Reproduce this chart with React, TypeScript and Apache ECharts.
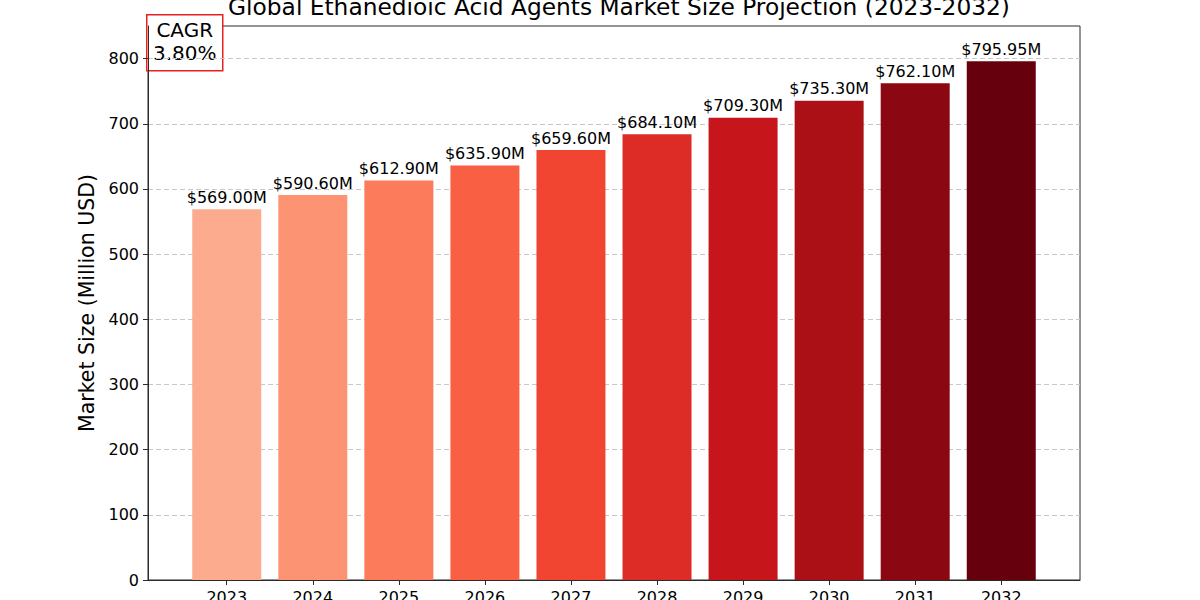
import React, { useEffect, useRef } from "react";
import * as echarts from "echarts";

const years = ["2023", "2024", "2025", "2026", "2027", "2028", "2029", "2030", "2031", "2032"];
const values = [569.0, 590.6, 612.9, 635.9, 659.6, 684.1, 709.3, 735.3, 762.1, 795.95];
const colors = [
  "#fcab8f", "#fc9474", "#fb7b5b", "#f85f43", "#f14431",
  "#dd2c25", "#c6161c", "#aa1016", "#8b0812", "#67000d",
];
const yTicks = [0, 100, 200, 300, 400, 500, 600, 700, 800];
const titleText = "Global Ethanedioic Acid Agents Market Size Projection (2023-2032)";
const yAxisName = "Market Size (Million USD)";
const cagrText = "CAGR\n3.80%";

const FONT = "DejaVu Sans";
const AXIS_COLOR = "#2a2a2a";

export default function App() {
  const ref = useRef<HTMLDivElement>(null);
  useEffect(() => {
    if (!ref.current) return;
    const chart = echarts.init(ref.current, undefined, { renderer: "svg" });
    chart.setOption({
      animation: false,
      backgroundColor: "#ffffff",
      textStyle: { fontFamily: FONT },
      title: {
        text: titleText,
        left: 614,
        textAlign: "center",
        top: -10,
        textStyle: { fontFamily: FONT, fontSize: 23.3, fontWeight: "normal", color: "#000" },
      },
      grid: {
        left: 148,
        right: 120,
        top: 26,
        bottom: 20,
        outerBoundsMode: "none",
        containLabel: false,
        show: true,
        borderColor: AXIS_COLOR,
        borderWidth: 1,
        backgroundColor: "transparent",
      },
      xAxis: {
        type: "value",
        min: -0.915,
        max: 9.915,
        axisLine: { show: true, onZero: false, lineStyle: { color: AXIS_COLOR, width: 1 } },
        axisTick: { show: true, length: 5, customValues: years.map((_, i) => i), lineStyle: { color: AXIS_COLOR } },
        axisLabel: {
          customValues: years.map((_, i) => i),
          formatter: (v: number) => years[Math.round(v)] ?? "",
          fontSize: 16,
          color: "#000",
          fontFamily: FONT,
          margin: 9,
        },
        splitLine: { show: false },
      },
      yAxis: {
        type: "value",
        min: 0,
        max: 850,
        interval: 100,
        name: yAxisName,
        nameLocation: "middle",
        nameGap: 50,
        nameTextStyle: { fontSize: 20.5, color: "#000", fontFamily: FONT },
        axisLine: { show: true, onZero: false, lineStyle: { color: AXIS_COLOR, width: 1 } },
        axisTick: { show: true, length: 5, customValues: yTicks, lineStyle: { color: AXIS_COLOR } },
        axisLabel: {
          customValues: yTicks,
          fontSize: 16,
          color: "#000",
          fontFamily: FONT,
          margin: 9,
        },
        splitLine: { show: true, lineStyle: { color: "#c8c8c8", type: [5, 3], width: 1 } },
      },
      series: [
        {
          type: "bar",
          barWidth: 69,
          data: values.map((v, i) => ({ value: [i, v], itemStyle: { color: colors[i] } })),
          label: {
            show: true,
            position: "top",
            distance: 4,
            fontSize: 16,
            color: "#000",
            fontFamily: FONT,
            formatter: (p: any) => "$" + p.value[1].toFixed(2) + "M",
          },
        },
      ],
      graphic: [
        {
          type: "group",
          left: 146,
          top: 14,
          z: 100,
          children: [
            {
              type: "rect",
              shape: { x: 0, y: 0, width: 76, height: 56 },
              style: { fill: "#fff", stroke: "#e8201e", lineWidth: 1.5 },
            },
            {
              type: "text",
              x: 38,
              y: 27,
              style: {
                text: cagrText,
                fontSize: 20,
                fontFamily: FONT,
                fill: "#000",
                align: "center",
                verticalAlign: "middle",
                lineHeight: 23,
              },
            },
          ],
        },
      ],
    });
    return () => chart.dispose();
  }, []);
  return (
    <div
      ref={ref}
      style={{ position: "absolute", left: 0, top: 0, width: 1200, height: 600 }}
    />
  );
}
